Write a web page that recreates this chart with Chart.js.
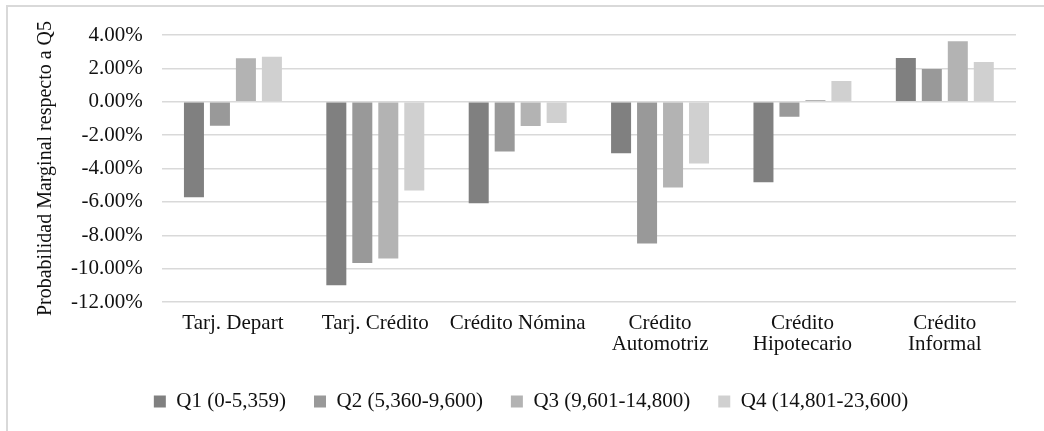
<!DOCTYPE html>
<html>
<head>
<meta charset="utf-8">
<script src="https://cdn.jsdelivr.net/npm/chart.js@4/dist/chart.umd.min.js"></script>
<style>
  body { margin: 0; background: #fff; }
</style>
</head>
<body>
<canvas id="grafica" width="1044" height="431"></canvas>
<script>
// Datos (porcentajes)
var categorias = ['Tarj. Depart', 'Tarj. Crédito', 'Crédito Nómina', ['Crédito', 'Automotriz'], ['Crédito', 'Hipotecario'], ['Crédito', 'Informal']];
var series = ['Q1 (0-5,359)', 'Q2 (5,360-9,600)', 'Q3 (9,601-14,800)', 'Q4 (14,801-23,600)'];
var q1 = [-5.73, -11.0, -6.08, -3.08, -4.82, 2.62];
var q2 = [-1.44, -9.66, -2.98, -8.5, -0.9, 1.96];
var q3 = [2.6, -9.4, -1.46, -5.14, 0.1, 3.62];
var q4 = [2.7, -5.32, -1.28, -3.7, 1.24, 2.38];
var colores = ['#808080', '#999999', '#b3b3b3', '#d0d0d0'];
var tituloY = 'Probabilidad Marginal respecto a Q5';

Chart.defaults.font.family = "'Liberation Serif', 'Times New Roman', serif";
Chart.defaults.font.size = 21;
Chart.defaults.color = '#111';

// marco gris alrededor del grafico
var marco = {
    id: 'marco',
    beforeDraw: function (chart) {
        var ctx = chart.ctx;
        ctx.save();
        ctx.fillStyle = '#fff';
        ctx.fillRect(0, 0, chart.width, chart.height);
        ctx.strokeStyle = '#d9d9d9';
        ctx.lineWidth = 2;
        ctx.strokeRect(7, 6, 1200, 1000);
        ctx.restore();
    },
    // la leyenda del original esta un poco a la derecha
    afterLayout: function (chart) {
        chart.legend.left += 18;
        chart.legend.right += 18;
    }
};

var valores = [q1, q2, q3, q4];
var datasets = series.map(function (nombre, i) {
    return {
        label: nombre,
        data: valores[i],
        backgroundColor: colores[i],
        borderWidth: 0,
        categoryPercentage: 0.73,
        barPercentage: 0.77
    };
});

var ctx = document.getElementById('grafica').getContext('2d');
var chart = new Chart(ctx, {
    type: 'bar',
    data: { labels: categorias, datasets: datasets },
    options: {
        responsive: false,
        animation: false,
        layout: { padding: { top: 35, right: 28, left: 10, bottom: 9 } },
        plugins: {
            tooltip: { enabled: false },
            legend: {
                position: 'bottom',
                labels: { boxWidth: 12, boxHeight: 12, padding: 28 }
            }
        },
        scales: {
            x: {
                grid: { display: false },
                border: { display: false },
                ticks: { padding: 3, maxRotation: 0, autoSkip: false, font: { lineHeight: 1.0 } },
                afterFit: function (scale) { scale.height += 5; }
            },
            y: {
                min: -12,
                max: 4,
                border: { display: false },
                grid: { color: '#d9d9d9', lineWidth: 1.5, drawTicks: false },
                ticks: {
                    stepSize: 2,
                    padding: 19,
                    callback: function (v) { return v.toFixed(2) + '%'; }
                },
                title: {
                    display: true,
                    text: tituloY,
                    font: { size: 20 },
                    padding: { top: 24, bottom: -6 }
                }
            }
        }
    },
    plugins: [marco]
});
</script>
</body>
</html>
